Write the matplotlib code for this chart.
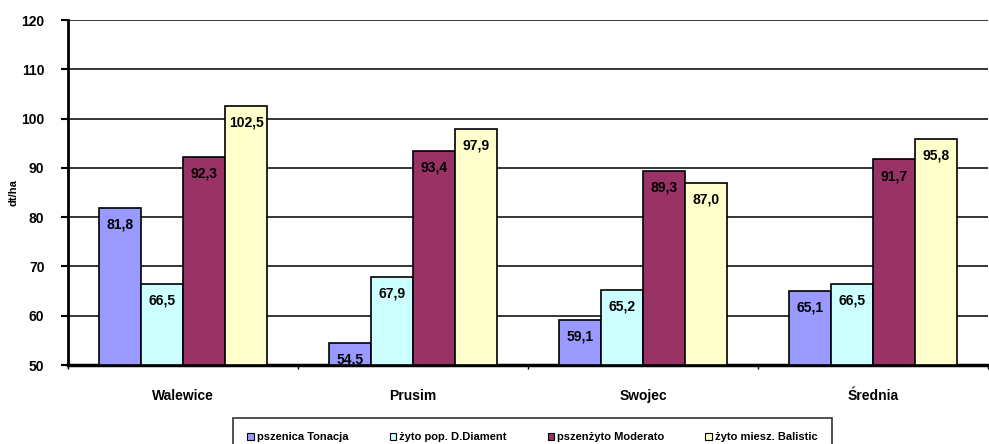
import matplotlib.pyplot as plt
import numpy as np
from matplotlib.patches import Patch

plt.rcParams['font.family'] = ['Liberation Sans', 'DejaVu Sans']

locations = ["Walewice", "Prusim", "Swojec", "Średnia"]
series_names = ["pszenica Tonacja", "żyto pop. D.Diament", "pszenżyto Moderato", "żyto miesz. Balistic"]
pszenica = [81.8, 54.5, 59.1, 65.1]
zyto_pop = [66.5, 67.9, 65.2, 66.5]
pszenzyto = [92.3, 93.4, 89.3, 91.7]
zyto_miesz = [102.5, 97.9, 87.0, 95.8]
series = [pszenica, zyto_pop, pszenzyto, zyto_miesz]
colors = ["#9999FF", "#CCFFFF", "#993366", "#FFFFCC"]

fig = plt.figure(figsize=(9.89, 4.44), dpi=100)
ax = fig.add_axes([68 / 989, 1 - 365 / 444, 920 / 989, 345 / 444])

x = np.arange(len(locations))
width = 0.183
base = 50

for i, (vals, col) in enumerate(zip(series, colors)):
    pos = x + (i - 1.5) * width
    heights = [v - base for v in vals]
    ax.bar(pos, heights, width, bottom=base, color=col, edgecolor="black", linewidth=1.2, zorder=3)
    for p, v in zip(pos, vals):
        ax.annotate(f"{v:.1f}".replace(".", ","), (p, v), xytext=(0, -12), textcoords="offset points",
                    ha="center", va="center", fontsize=10, fontweight="bold", zorder=4)

ax.set_xlim(-0.5, len(locations) - 0.5)
ax.set_ylim(50, 120)
ax.set_yticks(range(50, 121, 10))
ax.set_yticklabels([str(t) for t in range(50, 121, 10)], fontsize=10, fontweight="bold")
ax.set_xticks(x)
ax.set_xticklabels(locations, fontsize=10, fontweight="bold")
ax.tick_params(axis="x", length=0, pad=17)
ax.set_xticks(np.arange(-0.5, len(locations), 1), minor=True)
ax.tick_params(axis="x", which="minor", length=3, width=1)
ax.tick_params(axis="y", length=5, width=1.5, pad=12)
ax.yaxis.grid(True, color="black", linewidth=1.1, zorder=0)
ax.set_axisbelow(True)

for s in ["top", "right"]:
    ax.spines[s].set_visible(False)
ax.spines["left"].set_linewidth(2)
ax.spines["bottom"].set_linewidth(2.5)

ax.set_ylabel("dt/ha", fontsize=8, fontweight="bold", labelpad=2)

handles = [Patch(facecolor=c, edgecolor="black", linewidth=0.8) for c in colors]
leg = fig.legend(handles, series_names, loc="upper left", bbox_to_anchor=(233 / 989, 1 - 418 / 444),
                 ncol=4, frameon=True, fancybox=False, edgecolor="black",
                 prop={"size": 8, "weight": "bold"}, handlelength=0.6, handleheight=0.6,
                 handletextpad=0.25, columnspacing=3.7, borderpad=1.3, borderaxespad=0.0)
leg.get_frame().set_linewidth(1.2)

fig.savefig("out.png", dpi=100)
